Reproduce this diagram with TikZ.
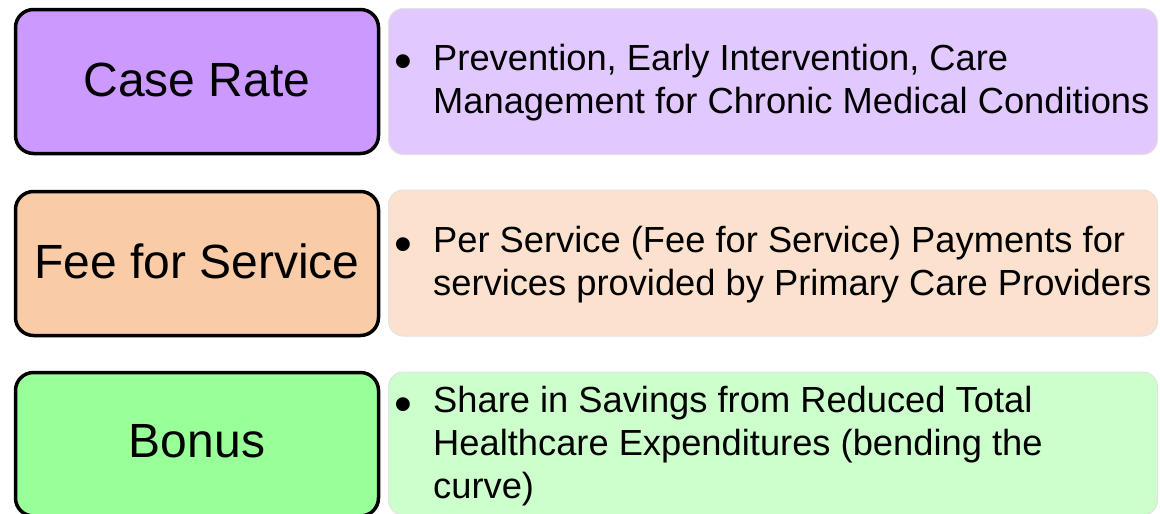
\documentclass[tikz,border=0pt]{standalone}
\usepackage{fontspec}
\setmainfont{Liberation Sans}
\usepackage{graphicx}
\definecolor{caseL}{HTML}{CC99FF}
\definecolor{caseR}{HTML}{E1C9FF}
\definecolor{feeL}{HTML}{F9CBA6}
\definecolor{feeR}{HTML}{FCE2CE}
\definecolor{bonL}{HTML}{99FF99}
\definecolor{bonR}{HTML}{CCFFCC}
\definecolor{edgeR}{HTML}{E2E2E2}
\tikzset{
  titlebox/.style={draw=black, line width=3.5pt, rounded corners=18pt, inner sep=0pt,
    minimum width=363pt, font=\fontsize{48}{57.6}\selectfont},
  infobox/.style={draw=edgeR, line width=1pt, rounded corners=15pt, inner sep=0pt, minimum width=769pt},
  infotext/.style={anchor=base west, inner sep=0pt, align=left, font=\fontsize{36.3}{43.2}\selectfont},
}
\newcommand{\bulitem}{\makebox[45pt][l]{\makebox[30pt]{\raisebox{-9pt}{\scalebox{1.4}{\textbullet}}}}}
\begin{document}
\begin{tikzpicture}[x=1pt, y=-1pt]
\clip (0,0) rectangle (1160,514);
\fill[white] (0,0) rectangle (1160,514);
% row 1
\node[titlebox, fill=caseL, minimum height=144pt] (case) at (197,81.5) {};
\node[inner sep=0pt, font=\fontsize{48}{57.6}\selectfont] (caset) at (197,79.5) {Case Rate};
\node[infobox, fill=caseR, minimum height=146pt] (caseinfo) at (773,81.5) {};
\node[infotext] (casetxt) at (388,70) {\begin{tabular}[t]{@{}l@{}l@{}}\bulitem & Prevention, Early Intervention, Care\\ & Management for Chronic Medical Conditions\end{tabular}};
% row 2
\node[titlebox, fill=feeL, minimum height=144pt] (fee) at (197,263.5) {};
\node[inner sep=0pt, font=\fontsize{48}{57.6}\selectfont] (feet) at (197,261.5) {Fee for Service};
\node[infobox, fill=feeR, minimum height=146pt] (feeinfo) at (773,263) {};
\node[infotext] (feetxt) at (388,252) {\begin{tabular}[t]{@{}l@{}l@{}}\bulitem & Per Service (Fee for Service) Payments for\\ & services provided by Primary Care Providers\end{tabular}};
% row 3
\node[titlebox, fill=bonL, minimum height=143.5pt] (bon) at (197,444.25) {};
\node[inner sep=0pt, font=\fontsize{48}{57.6}\selectfont] (bont) at (197,441.5) {Bonus};
\node[infobox, fill=bonR, minimum height=143pt] (boninfo) at (773,443.5) {};
\node[infotext] (bontxt) at (388,412) {\begin{tabular}[t]{@{}l@{}l@{}}\bulitem & Share in Savings from Reduced Total\\ & Healthcare Expenditures (bending the\\ & curve)\end{tabular}};
\end{tikzpicture}
\end{document}
